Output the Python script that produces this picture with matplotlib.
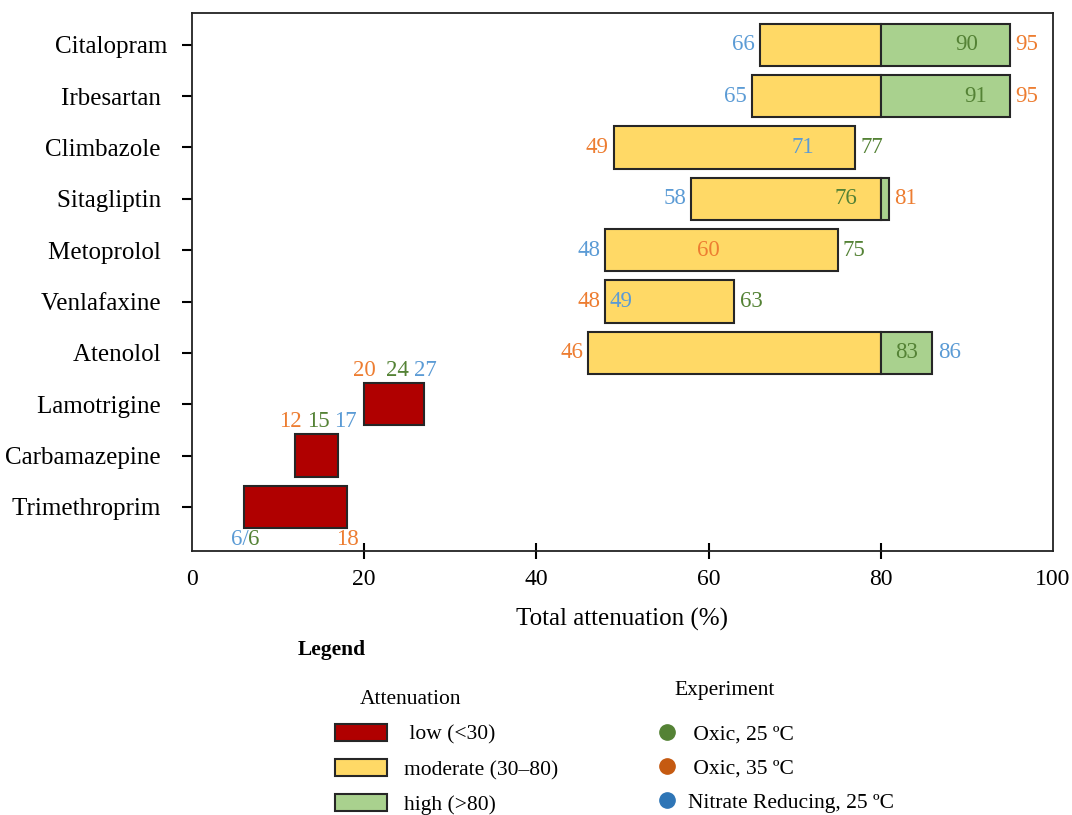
import numpy as np
import matplotlib
matplotlib.use("Agg")
import matplotlib.pyplot as plt
from matplotlib.patches import Patch
from matplotlib.lines import Line2D

# ---------------- data ----------------
drugs = ["Citalopram", "Irbesartan ", "Climbazole ", "Sitagliptin ", "Metoprolol ",
         "Venlafaxine ", "Atenolol ", "Lamotrigine ", "Carbamazepine ", "Trimethroprim "]
oxic25 = [90, 91, 77, 76, 75, 63, 83, 24, 15, 6]
oxic35 = [95, 95, 49, 81, 60, 48, 46, 20, 12, 18]
nitrate = [66, 65, 71, 58, 48, 49, 86, 27, 17, 6]
xticks = [0, 20, 40, 60, 80, 100]
low_limit = 30
high_limit = 80

att_labels = [" low (<30)", "moderate (30\u201380)", "high (>80)"]
exp_labels = [" Oxic, 25 \u00baC", " Oxic, 35 \u00baC", "Nitrate Reducing, 25 \u00baC"]

# ---------------- style ----------------
plt.rcParams["font.family"] = ["Liberation Serif", "DejaVu Serif"]
c_low, c_mod, c_high = "#B00000", "#FFD966", "#A9D18E"
edge = "#262626"
txt_green, txt_orange, txt_blue = "#548235", "#ED7D31", "#5B9BD5"
mk_green, mk_orange, mk_blue = "#548235", "#C55A11", "#2E75B6"
# label order for ties: nitrate first, then oxic 25, then oxic 35
series = [(nitrate, txt_blue), (oxic25, txt_green), (oxic35, txt_orange)]

fig = plt.figure(figsize=(10.72, 8.15), dpi=100)
ax = fig.add_axes([192 / 1072, 1 - 551 / 815, (1053 - 192) / 1072, (551 - 13) / 815])

n = len(drugs)
ypos = np.arange(n)
h = 0.82
vfs = 16.5


def spread(xs, gap=3.2, iters=50):
    xs = list(xs)
    for _ in range(iters):
        for j in range(len(xs) - 1):
            d = xs[j + 1] - xs[j]
            if d < gap:
                push = (gap - d) / 2
                xs[j] -= push
                xs[j + 1] += push
    return xs


for i in range(n):
    vals = [(s[0][i], s[1]) for s in series]
    vmin = min(v for v, _ in vals)
    vmax = max(v for v, _ in vals)
    y = ypos[i]
    order = sorted(vals, key=lambda t: t[0])
    if vmax < low_limit:
        ax.barh(y, vmax - vmin, left=vmin, height=h, color=c_low, edgecolor=edge, linewidth=1.5)
        below = (i == n - 1)
        dy = 0.64 if below else -0.66
        groups = []
        for v, c in order:
            if groups and groups[-1][0] == v:
                groups[-1][1].append(c)
            else:
                groups.append((v, [c]))
        xs = spread([g[0] for g in groups]) if len(groups) == len(order) else [g[0] for g in groups]
        for (v, cols), xv in zip(groups, xs):
            if len(cols) > 1:
                ax.text(xv + 0.55, y + dy, f"{v}/", color=cols[0], ha="right",
                        va="center", fontsize=vfs)
                ax.text(xv + 0.55, y + dy, f"{v}", color=cols[1], ha="left",
                        va="center", fontsize=vfs)
            else:
                ax.text(xv, y + dy, f"{v}", color=cols[0], ha="center", va="center", fontsize=vfs)
    else:
        mod_end = min(vmax, high_limit)
        ax.barh(y, mod_end - vmin, left=vmin, height=h, color=c_mod, edgecolor=edge, linewidth=1.5)
        if vmax > high_limit:
            ax.barh(y, vmax - high_limit, left=high_limit, height=h, color=c_high,
                    edgecolor=edge, linewidth=1.5)
        (v0, c0), (v1, c1), (v2, c2) = order
        ax.text(vmin - 0.6, y, f"{v0}", color=c0, ha="right", va="center", fontsize=vfs)
        ax.text(vmax + 0.6, y, f"{v2}", color=c2, ha="left", va="center", fontsize=vfs)
        xm = float(np.clip(v1, vmin + 1.8, vmax - 1.8))
        ax.text(xm, y, f"{v1}", color=c1, ha="center", va="center", fontsize=vfs)

ax.set_xlim(xticks[0], xticks[-1])
ax.set_ylim(n - 1 + 0.86, -0.62)
ax.set_xticks(xticks)
ax.set_xticklabels([str(t) for t in xticks], fontsize=17)
ax.set_yticks(ypos)
ax.set_yticklabels(drugs, fontsize=18)
ax.tick_params(axis="y", direction="out", length=7.2, width=1.5, pad=10.8)
ax.tick_params(axis="x", direction="inout", length=11, width=1.5, pad=7.5)
xt = ax.xaxis.get_major_ticks()
for t in (xt[0], xt[-1]):
    t.tick1line.set_visible(False)
ax.set_xlabel("Total attenuation (%)", fontsize=18, labelpad=13)
for sp in ax.spines.values():
    sp.set_linewidth(1.3)
    sp.set_color("#222222")

# ---------------- legend ----------------
fig.text(298 / 1072, 1 - 650 / 815, "Legend", fontsize=15.5, fontweight="bold",
         ha="left", va="center")
fig.text(360 / 1072, 1 - 700 / 815, "Attenuation", fontsize=15.5, ha="left", va="center")
fig.text(674 / 1072, 1 - 690 / 815, "Experiment", fontsize=15.5, ha="left", va="center")

att_handles = [Patch(facecolor=c, edgecolor=edge, linewidth=1.5) for c in (c_low, c_mod, c_high)]
fig.legend(att_handles, att_labels, loc="upper left", bbox_to_anchor=(335 / 1072, 1 - 724 / 815),
           frameon=False, fontsize=15.5, handlelength=2.4, handleheight=0.84,
           labelspacing=0.66, handletextpad=0.8, borderpad=0, borderaxespad=0)

exp_handles = [Line2D([], [], linestyle="none", marker="o", markersize=11,
                      markerfacecolor=c, markeredgecolor=c) for c in (mk_green, mk_orange, mk_blue)]
fig.legend(exp_handles, exp_labels, loc="upper left", bbox_to_anchor=(656 / 1072, 1 - 724 / 815),
           frameon=False, fontsize=15.5, handlelength=1.0, labelspacing=0.66,
           handletextpad=0.5, borderpad=0, borderaxespad=0)

fig.savefig("out.png", dpi=100)
